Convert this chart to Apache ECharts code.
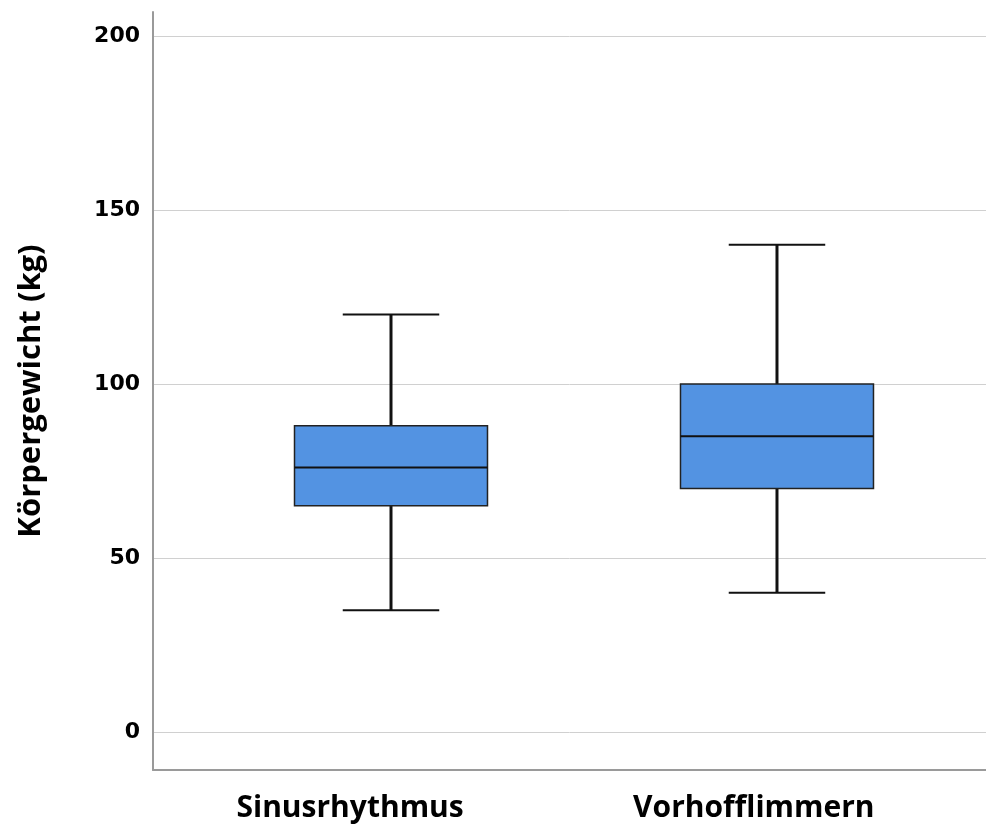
<!DOCTYPE html>
<html>
<head>
<meta charset="utf-8">
<script src="https://cdn.jsdelivr.net/npm/echarts@6/dist/echarts.min.js"></script>
<style>
html,body{margin:0;padding:0;background:#fff;}
#chart{width:986px;height:828px;}
</style>
</head>
<body>
<div id="chart"></div>
<script>
// Data
var categories = ['Sinusrhythmus', 'Vorhofflimmern'];
var whiskerLow = [35, 40];
var q1 = [65, 70];
var median = [76, 85];
var q3 = [88, 100];
var whiskerHigh = [120, 140];
var yTicks = [0, 50, 100, 150, 200];
var yAxisTitle = 'Körpergewicht (kg)';

var boxData = categories.map(function (c, i) {
  return [i, whiskerLow[i], q1[i], median[i], q3[i], whiskerHigh[i]];
});

function renderBox(params, api) {
  var x = api.value(0);
  var unit = api.size([1, 0])[0];
  var half = unit * 0.25;
  var capHalf = unit * 0.125;
  var pLow = api.coord([x, api.value(1)]);
  var pQ1 = api.coord([x, api.value(2)]);
  var pMed = api.coord([x, api.value(3)]);
  var pQ3 = api.coord([x, api.value(4)]);
  var pHigh = api.coord([x, api.value(5)]);
  var cx = pMed[0];
  var lineStyle = { stroke: '#111', lineWidth: 3 };
  var capStyle = { stroke: '#111', lineWidth: 2 };
  return {
    type: 'group',
    children: [
      { type: 'line', shape: { x1: cx, y1: pHigh[1], x2: cx, y2: pQ3[1] }, style: lineStyle },
      { type: 'line', shape: { x1: cx, y1: pQ1[1], x2: cx, y2: pLow[1] }, style: lineStyle },
      { type: 'line', shape: { x1: cx - capHalf, y1: pHigh[1], x2: cx + capHalf, y2: pHigh[1] }, style: capStyle },
      { type: 'line', shape: { x1: cx - capHalf, y1: pLow[1], x2: cx + capHalf, y2: pLow[1] }, style: capStyle },
      { type: 'rect', shape: { x: cx - half, y: pQ3[1], width: half * 2, height: pQ1[1] - pQ3[1] },
        style: { fill: '#5393E2', stroke: '#222', lineWidth: 1.5 } },
      { type: 'line', shape: { x1: cx - half, y1: pMed[1], x2: cx + half, y2: pMed[1] }, style: { stroke: '#111', lineWidth: 2 } }
    ]
  };
}

var chart = echarts.init(document.getElementById('chart'), null, { renderer: 'canvas' });
chart.setOption({
  animation: false,
  backgroundColor: '#fff',
  grid: { left: 153, right: 0, top: 12, bottom: 58, containLabel: false, outerBoundsMode: 'none' },
  xAxis: {
    type: 'value',
    min: -0.6166,
    max: 1.5415,
    splitLine: { show: false },
    axisTick: { show: false },
    axisLine: { show: true, onZero: false, lineStyle: { color: '#9a9a9a', width: 2 } },
    axisLabel: {
      customValues: [-0.106, 0.94],
      formatter: function (v) { return categories[Math.round(v)]; },
      margin: 23,
      color: '#000',
      fontFamily: 'Open Sans',
      fontWeight: 'bold',
      fontSize: 30
    }
  },
  yAxis: {
    type: 'value',
    min: -10.9,
    max: 206.9,
    name: yAxisTitle,
    nameLocation: 'middle',
    nameGap: 106,
    nameTextStyle: { color: '#000', fontFamily: 'Open Sans', fontWeight: 'bold', fontSize: 31 },
    axisLine: { show: true, onZero: false, lineStyle: { color: '#9a9a9a', width: 2 } },
    axisTick: { show: false, customValues: yTicks },
    axisLabel: {
      customValues: yTicks,
      margin: 13,
      color: '#000',
      fontFamily: 'DejaVu Sans',
      fontWeight: 'bold',
      fontSize: 22
    },
    splitLine: { show: true, lineStyle: { color: '#d0d0d0', width: 1 } }
  },
  series: [{
    type: 'custom',
    renderItem: renderBox,
    data: boxData,
    encode: { x: 0, y: [1, 2, 3, 4, 5] },
    clip: false
  }]
});
</script>
</body>
</html>
